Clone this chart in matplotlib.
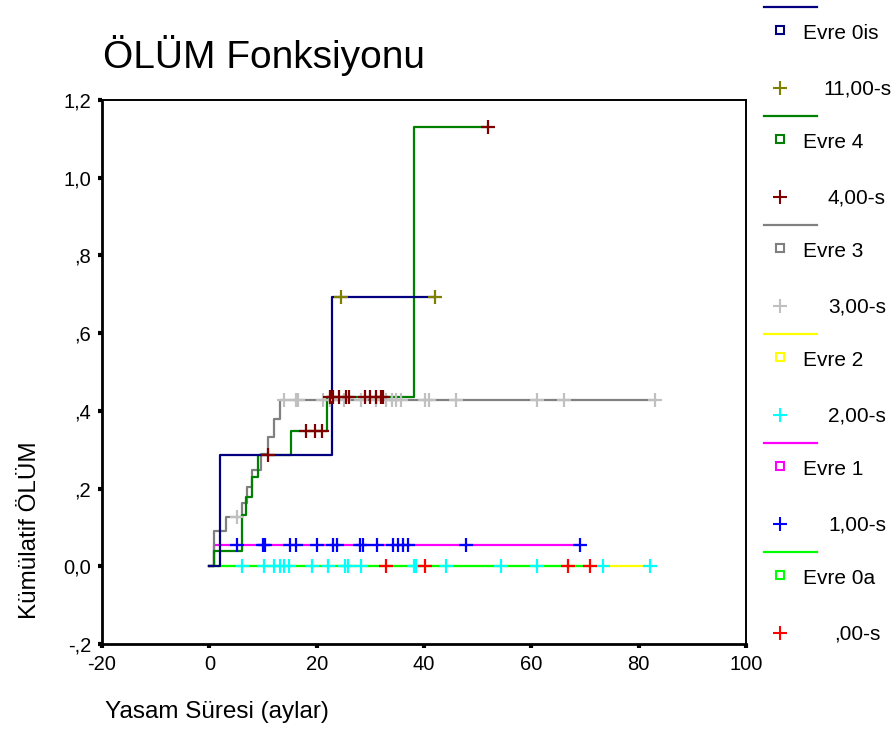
import numpy as np
import matplotlib
matplotlib.use("Agg")
import matplotlib.pyplot as plt

plt.rcParams['font.family'] = ['Liberation Sans', 'DejaVu Sans']

# ---------------- data ----------------
groups = ["Evre 0is", "Evre 4", "Evre 3", "Evre 2", "Evre 1", "Evre 0a"]
censor_labels = ["11,00-s", "4,00-s", "3,00-s", "2,00-s", "1,00-s", ",00-s"]
line_colors = ["#000080", "#008000", "#808080", "#ffff00", "#ff00ff", "#00ff00"]
censor_colors = ["#808000", "#800000", "#c0c0c0", "#00ffff", "#0000ff", "#ff0000"]

# event times and cumulative hazard after each event
ev_0is = [2.0, 22.8]
h_0is = [0.286, 0.693]
end_0is = 42.0
cen_0is = [24.5, 42.0]

ev_4 = [0.8, 6.1, 6.9, 7.9, 9.1, 15.2, 22.0, 38.2]
h_4 = [0.040, 0.132, 0.179, 0.229, 0.286, 0.349, 0.436, 1.130]
end_4 = 52.0
cen_4 = [10.9, 18.1, 19.6, 21.0, 22.4, 23.0, 24.1, 25.5, 26.0, 29.0, 29.9, 31.0, 32.0, 32.4, 52.0]

ev_3 = [0.9, 3.1, 6.0, 7.0, 7.9, 9.7, 11.0, 12.0, 13.2]
h_3 = [0.091, 0.128, 0.162, 0.205, 0.248, 0.290, 0.334, 0.379, 0.429]
end_3 = 83.0
cen_3 = [5.1, 13.9, 16.1, 16.6, 21.1, 22.4, 25.1, 28.2, 31.0, 32.9, 34.0, 34.8, 35.7,
         40.2, 41.0, 46.0, 61.0, 66.1, 83.0]

ev_2 = []
h_2 = []
end_2 = 82.2
cen_2 = [6.1, 10.2, 12.0, 13.2, 14.0, 14.9, 19.2, 22.2, 25.3, 25.8, 28.2, 38.2, 38.6,
         44.1, 54.3, 61.0, 73.3, 82.2]

ev_1 = [0.9]
h_1 = [0.055]
end_1 = 69.1
cen_1 = [5.1, 10.0, 10.3, 15.0, 16.1, 20.0, 23.0, 23.8, 28.1, 28.7, 31.2, 34.2, 35.2,
         36.1, 37.1, 47.9, 69.1]

ev_0a = []
h_0a = []
end_0a = 71.0
cen_0a = [33.0, 40.2, 66.9, 70.9]

events = [ev_0is, ev_4, ev_3, ev_2, ev_1, ev_0a]
hazards = [h_0is, h_4, h_3, h_2, h_1, h_0a]
ends = [end_0is, end_4, end_3, end_2, end_1, end_0a]
censors = [cen_0is, cen_4, cen_3, cen_2, cen_1, cen_0a]

xticks = [-20, 0, 20, 40, 60, 80, 100]
yticks = [-0.2, 0.0, 0.2, 0.4, 0.6, 0.8, 1.0, 1.2]
yticklabels = ["-,2", "0,0", ",2", ",4", ",6", ",8", "1,0", "1,2"]

# ---------------- figure ----------------
W, H = 896, 756
fig = plt.figure(figsize=(W / 100, H / 100), dpi=100)
ax = fig.add_axes([102 / W, (H - 644) / H, 644 / W, 544 / H])

draw_order = [3, 5, 4, 2, 1, 0]
for i in draw_order:
    xs = [0.0] + list(events[i]) + [ends[i]]
    ys = [0.0] + list(hazards[i]) + [hazards[i][-1] if hazards[i] else 0.0]
    ax.step(xs, ys, where='post', color=line_colors[i], lw=1.6, zorder=2 + draw_order.index(i) * 0.1)

for i in draw_order:
    ev = np.array(events[i], dtype=float)
    hz = np.array([0.0] + list(hazards[i]))
    c = np.array(censors[i], dtype=float)
    idx = np.searchsorted(ev, c, side='right')
    ax.plot(c, hz[idx], linestyle='none', marker='+', markersize=10, mew=1.6,
            color=censor_colors[i], zorder=4)

ax.set_xlim(-20, 100)
ax.set_ylim(-0.2, 1.2)
ax.set_xticks(xticks)
ax.set_xticklabels([str(t) for t in xticks])
ax.set_yticks(yticks)
ax.set_yticklabels(yticklabels)
ax.tick_params(direction='out', length=3, width=3, labelsize=14.5, pad=5, color='black')
for s in ['top', 'right']:
    ax.spines[s].set_linewidth(1.4)
for s in ['left', 'bottom']:
    ax.spines[s].set_linewidth(2.0)

# ---------------- texts ----------------
ov = fig.add_axes([0, 0, 1, 1], facecolor='none')
ov.set_xlim(0, W)
ov.set_ylim(H, 0)
ov.axis('off')

ov.text(103, 55, "ÖLÜM Fonksiyonu", fontsize=28, ha='left', va='center')
ov.text(105, 712, "Yasam Süresi (aylar)", fontsize=17.5, ha='left', va='center')
ov.text(30, 530, "Kümülatif ÖLÜM", fontsize=17.5, ha='center', va='center', rotation=90)

# legend (SPSS style)
for i, g in enumerate(groups):
    base = 6.7 + 109 * i
    ov.plot([764, 817], [base, base], color=line_colors[i], lw=1.6)
    ov.plot([780], [base + 23], marker='s', markersize=5.5, mfc='none', mec=line_colors[i], mew=1.5)
    ov.text(803, base + 27, g, fontsize=15, ha='left', va='center')
    ov.plot([780], [base + 81], marker='+', markersize=10, mew=1.5, color=censor_colors[i])
    ov.text(857, base + 82, censor_labels[i], fontsize=15, ha='center', va='center')

fig.savefig("out.png", dpi=100)
